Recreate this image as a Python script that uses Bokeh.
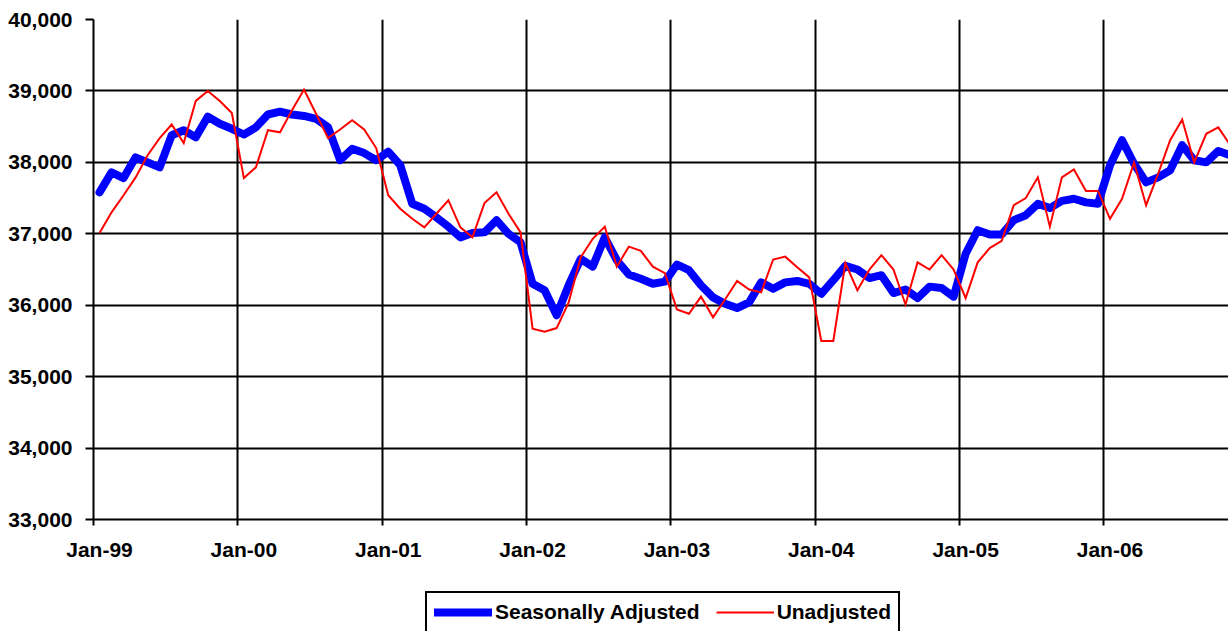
from bokeh.plotting import figure
from bokeh.layouts import column
from bokeh.models import (Range1d, FixedTicker, NumeralTickFormatter, LinearAxis,
                          Legend, LegendItem, ColumnDataSource)
from bokeh.embed import file_html
from bokeh.resources import INLINE

# ---- data ----
year_labels = ["Jan-99", "Jan-00", "Jan-01", "Jan-02", "Jan-03", "Jan-04", "Jan-05", "Jan-06"]

seasonally_adjusted = [
    37580, 37860, 37780, 38070, 38000, 37930, 38380, 38450, 38350, 38640, 38540, 38470,
    38390, 38490, 38670, 38710, 38670, 38650, 38610, 38490, 38030, 38190, 38130, 38030,
    38150, 37960, 37420, 37350, 37230, 37100, 36950, 37010, 37020, 37190, 37000, 36880,
    36300, 36210, 35860, 36280, 36650, 36540, 36950, 36630, 36430, 36370, 36300, 36330,
    36570, 36490, 36280, 36110, 36020, 35960, 36040, 36320, 36230, 36320, 36340, 36300,
    36160, 36350, 36550, 36500, 36380, 36420, 36170, 36220, 36100, 36260, 36240, 36120,
    36720, 37050, 36990, 36990, 37190, 37260, 37420, 37360, 37460, 37490, 37440, 37420,
    37960, 38310, 37980, 37720, 37790, 37890, 38240, 38030, 38000, 38160, 38100,
]

unadjusted = [
    37010, 37300, 37540, 37790, 38100, 38340, 38530, 38270, 38860, 39000, 38860, 38690,
    37780, 37930, 38450, 38420, 38730, 39020, 38680, 38340, 38460, 38590, 38460, 38200,
    37540, 37350, 37210, 37090, 37280, 37470, 37090, 36950, 37430, 37580, 37280, 37020,
    35670, 35630, 35680, 36040, 36670, 36930, 37100, 36540, 36820, 36760, 36540, 36450,
    35940, 35880, 36120, 35830, 36080, 36340, 36220, 36180, 36640, 36680, 36530, 36390,
    35500, 35500, 36590, 36210, 36500, 36700, 36500, 36010, 36600, 36500, 36700, 36500,
    36100, 36600, 36800, 36900, 37400, 37500, 37790, 37100, 37790, 37900, 37600, 37600,
    37210, 37490, 38000, 37400, 37840, 38310, 38600, 38000, 38400, 38490, 38240,
]

y_ticks = [33000, 34000, 35000, 36000, 37000, 38000, 39000, 40000]
series_names = ["Seasonally Adjusted", "Unadjusted"]

# month index (category) -> centre of each monthly category
month_pos = [i + 0.5 for i in range(len(seasonally_adjusted))]
year_ticks = [12 * i for i in range(len(year_labels))]
label_pos = [t + 0.5 for t in year_ticks]

source = ColumnDataSource(data=dict(x=month_pos, sa=seasonally_adjusted, ua=unadjusted))

FONT = "Liberation Sans"
BLUE = "#0000FF"
RED = "#FF0000"

p = figure(width=1228, height=568, output_backend="svg", toolbar_location=None,
           x_range=Range1d(0, 94.35), y_range=Range1d(33000, 40000),
           min_border_left=93, min_border_right=0, min_border_top=19,
           min_border_bottom=49)
p.outline_line_color = None
p.background_fill_color = "white"
p.border_fill_color = "white"

# x axis carrying only tick marks (at Jan of each year)
xa = p.xaxis[0]
xa.ticker = FixedTicker(ticks=year_ticks)
xa.major_label_overrides = {t: "" for t in year_ticks}
xa.major_label_text_font_size = "1px"
xa.major_label_standoff = 0
xa.axis_line_color = "black"
xa.axis_line_width = 2
xa.major_tick_line_color = "black"
xa.major_tick_line_width = 2
xa.major_tick_out = 6
xa.major_tick_in = 0
xa.minor_tick_line_color = None

# x axis carrying the labels (centred on the January category)
la = LinearAxis(ticker=FixedTicker(ticks=label_pos),
                major_label_overrides={lp: lab for lp, lab in zip(label_pos, year_labels)})
la.axis_line_color = None
la.major_tick_line_color = None
la.minor_tick_line_color = None
la.major_tick_out = 0
la.major_tick_in = 0
la.major_label_standoff = 12
la.major_label_text_font = FONT
la.major_label_text_font_style = "bold"
la.major_label_text_font_size = "21px"
la.major_label_text_color = "black"
p.add_layout(la, "below")

ya = p.yaxis[0]
ya.ticker = FixedTicker(ticks=y_ticks)
ya.formatter = NumeralTickFormatter(format="0,0")
ya.axis_line_color = "black"
ya.axis_line_width = 2
ya.major_tick_line_color = "black"
ya.major_tick_line_width = 2
ya.major_tick_out = 8
ya.major_tick_in = 0
ya.minor_tick_line_color = None
ya.major_label_standoff = 13
ya.major_label_text_font = FONT
ya.major_label_text_font_style = "bold"
ya.major_label_text_font_size = "21px"
ya.major_label_text_color = "black"

for g in (p.xgrid[0], p.ygrid[0]):
    g.grid_line_color = "black"
    g.grid_line_width = 2
    g.grid_line_alpha = 1.0

p.line("x", "sa", source=source, line_color=BLUE, line_width=8,
       line_join="round", line_cap="round")
p.line("x", "ua", source=source, line_color=RED, line_width=2, line_join="miter")

# ---- legend strip below the chart (its own small plot, frame aligned with the chart) ----
lg = figure(width=1228, height=63, output_backend="svg", toolbar_location=None,
            x_range=Range1d(-2, -1), y_range=Range1d(0, 1),
            x_axis_location=None, y_axis_location=None,
            min_border_left=0, min_border_right=0, min_border_top=0, min_border_bottom=0)
lg.outline_line_color = None
lg.xgrid.visible = False
lg.ygrid.visible = False
lg.background_fill_color = "white"
lg.border_fill_color = "white"
# same series, drawn outside this strip's visible range: only their legend swatches show
r_sa = lg.line("x", "sa", source=source, line_color=BLUE, line_width=8, line_cap="round")
r_ua = lg.line("x", "ua", source=source, line_color=RED, line_width=2)

legend = Legend(items=[LegendItem(label=series_names[0], renderers=[r_sa]),
                       LegendItem(label=series_names[1], renderers=[r_ua])],
                orientation="horizontal", location=(332, -2))
legend.border_line_color = "black"
legend.border_line_alpha = 1.0
legend.border_line_width = 2
legend.background_fill_color = "white"
legend.background_fill_alpha = 1.0
legend.label_text_font = FONT
legend.label_text_font_style = "bold"
legend.label_text_font_size = "21px"
legend.label_text_color = "black"
legend.glyph_width = 58
legend.glyph_height = 20
legend.label_standoff = 3
legend.spacing = 16
legend.padding = 7
legend.margin = 0
lg.add_layout(legend, "center")

layout = column(p, lg, spacing=0)
open("out.html", "w").write(file_html(layout, INLINE))
